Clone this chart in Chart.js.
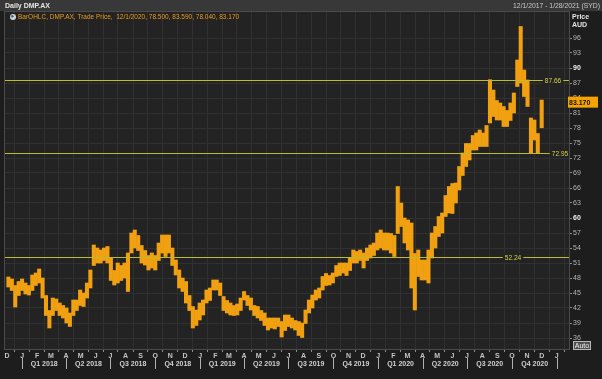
<!DOCTYPE html>
<html><head><meta charset="utf-8">
<script src="https://cdn.jsdelivr.net/npm/chart.js@4/dist/chart.umd.min.js"></script>
<style>
html,body{margin:0;padding:0;background:#1d1d1d;overflow:hidden}
canvas{display:block}
</style></head><body>
<canvas id="c" width="602" height="379"></canvas>
<script>
// ---- text ----
const titleText = 'Daily DMP.AX';
const rangeText = '12/1/2017 - 1/28/2021 (SYD)';
const legendText = 'BarOHLC, DMP.AX, Trade Price,  12/1/2020, 78.500, 83.590, 78.040, 83.170';
const axisTitle = ['Price', 'AUD'];

// ---- data (weekly low / high, week 0 starts 12/1/2017) ----
const weekLow = [
 46.2,45.5,42.2,44.5,45.5,44.8,44.6,45.5,46.5,47,
 44,40.5,38,40.5,41.5,40.5,40,39,38.3,40.5,
 41.5,42.5,42.3,44,46,50.5,51,51,51.5,51,
 47.5,46.6,47,47.5,48,45.3,53,54,53.5,51,
 50.6,49.6,50,49.6,51.5,53,52.3,53,50.5,48.6,
 46,45.3,43,41.5,38,38.5,39.6,40.6,43,43.5,
 45.6,45.6,44.5,41.5,41,40.6,40.5,40.6,41.5,43.6,
 42.5,41.6,40.5,40,39.5,38.5,37.6,38,37.8,38.3,
 36.2,37.5,38.3,38,37.6,36.5,36.1,38.9,41,42,
 43.6,44,45.6,46.5,46.6,47,48.3,48.5,49,48.5,
 49.5,51,51,51.5,50,51.5,52,52.5,53.6,54,
 53.6,53.6,53,52.3,56.9,58.3,55,53.6,46,41.6,
 48.3,47.6,47.6,47,52,54,56.3,57,60.3,61,
 60.9,63,65.6,68.5,70.3,71.6,73.6,73.6,74.3,74.3,
 74.3,79,80.3,79.6,79.6,78.3,78.3,79.5,81,86.3,
 87,84.3,82.3,72.95,75.6,72.95
];
const weekHigh = [
 48.2,47.8,46.5,47.3,47.8,47,46.5,48.6,49,49.8,
 48,44.5,41.5,44,43.8,43,42.5,42,41,43.6,
 43.6,45.6,45,47,49.6,54.6,54,53.6,54,54.3,
 52,49.5,51,50.5,51,53,57,57.6,56.5,54.5,
 53.5,52.5,53,52.5,55,56.6,56.6,56.6,54,51.6,
 49.6,48,47.3,44.5,42.3,41.6,43,43.6,45.6,46,
 47.6,47.6,47,44.3,43.5,43,42.5,42.8,44,45.3,
 44.5,44,42.5,42.3,41.5,41,40,40,40,40,
 39.3,40.6,40.6,40,39.5,39.3,39,41.6,43.6,44.6,
 45.6,46,48.3,48.9,48.5,49,50.5,51,51,51,
 52,53.6,53.3,53.6,53,54,54.6,55,57,57.6,
 57,57,56.9,56.5,66.3,63,60,59.6,59,52.9,
 53.6,51.6,51.6,53.6,57,58.3,60.3,61,64.5,66.3,
 66.9,67,70.3,73,74.9,74.9,76.5,77,77.6,77,
 78.5,87.66,85.6,83.5,83,82.3,81.5,83,85,91.6,
 98.3,89.6,87.6,80,79.6,76.9
];
// last daily bar 12/1/2020: open, high, low, close
const lastOHLC = [78.5, 83.59, 78.04, 83.17];
const levels = [87.66, 72.95, 52.24];
const priceTicks = [36,39,42,45,48,51,54,57,60,63,66,69,72,75,78,81,84,87,90,93,96];
const monthLetters = ['J','F','M','A','M','J','J','A','S','O','N','D'];
const quarterNames = ['Q1 2018','Q2 2018','Q3 2018','Q4 2018','Q1 2019','Q2 2019','Q3 2019','Q4 2019','Q1 2020','Q2 2020','Q3 2020','Q4 2020'];

// ---- calendar helpers (days since 12/1/2017) ----
const DAY = 86400000;
const t0 = Date.UTC(2017, 11, 1);
const dayOf = (y, m, d) => Math.round((Date.UTC(y, m, d) - t0) / DAY);
const monthTicks = [];
for (let k = 0; k <= 37; k++) monthTicks.push({ value: dayOf(2017, 11 + k, 1), letter: monthLetters[(11 + k) % 12] });
const quarterStarts = [];
for (let q = 0; q <= 12; q++) quarterStarts.push(dayOf(2018, 3 * q, 1));

const barData = weekLow.map((lo, i) => ({ x: 7 * i + 3, y: [lo, weekHigh[i]] }));
barData.push({ x: dayOf(2020, 11, 1), y: [lastOHLC[2], lastOHLC[1]] });

// ---- styles ----
const FONT = 'Liberation Sans';
const BG = '#1d1d1d', PLOT_BG = '#232323', GRID = '#303030';
const LEVEL_COLOR = '#bcbc30', LEVEL_TEXT = '#d2d24a';
const levelLabelX = [553, 560, 513];

const decor = {
  id: 'decor',
  beforeDraw(chart) {
    const { ctx, chartArea: a } = chart;
    ctx.save();
    ctx.fillStyle = BG; ctx.fillRect(0, 0, chart.width, chart.height);
    ctx.fillStyle = '#383838'; ctx.fillRect(0, 0, chart.width, 11);
    ctx.fillStyle = PLOT_BG; ctx.fillRect(a.left, a.top, a.right - a.left, a.bottom - a.top);
    ctx.restore();
  },
  afterDatasetsDraw(chart) {
    const { ctx, chartArea: a, scales: { y } } = chart;
    ctx.save();
    ctx.font = '6.6px ' + FONT;
    ctx.textBaseline = 'middle'; ctx.textAlign = 'center';
    levels.forEach((v, i) => {
      const py = Math.round(y.getPixelForValue(v)) + 0.5;
      ctx.strokeStyle = LEVEL_COLOR; ctx.lineWidth = 1;
      ctx.beginPath(); ctx.moveTo(a.left, py); ctx.lineTo(a.right, py); ctx.stroke();
      const txt = v.toFixed(2);
      const w = ctx.measureText(txt).width + 4;
      ctx.fillStyle = PLOT_BG; ctx.fillRect(levelLabelX[i] - w / 2, py - 4, w, 8);
      ctx.fillStyle = LEVEL_TEXT; ctx.fillText(txt, levelLabelX[i], py + 0.5);
    });
    ctx.restore();
  },
  afterDraw(chart) {
    const { ctx, chartArea: a, scales: { x, y } } = chart;
    ctx.save();
    // plot border
    ctx.strokeStyle = '#4a4a4a'; ctx.lineWidth = 1;
    ctx.strokeRect(a.left - 0.5, a.top - 0.5, a.right - a.left + 1, a.bottom - a.top + 1);
    // header
    ctx.textBaseline = 'middle';
    ctx.font = 'bold 7px ' + FONT; ctx.fillStyle = '#e4e4e4'; ctx.textAlign = 'left';
    ctx.fillText(titleText, 5, 6);
    ctx.font = '6.8px ' + FONT; ctx.fillStyle = '#c8c8c8'; ctx.textAlign = 'right';
    ctx.fillText(rangeText, 600, 6);
    ctx.font = 'bold 7px ' + FONT; ctx.fillStyle = '#e4e4e4'; ctx.textAlign = 'left';
    ctx.fillText(axisTitle[0], 572, 17);
    ctx.fillText(axisTitle[1], 572, 25);
    // legend line
    ctx.beginPath(); ctx.arc(13, 17, 3, 0, Math.PI * 2); ctx.fillStyle = '#d8d8d8'; ctx.fill();
    ctx.beginPath(); ctx.arc(12.3, 16.3, 1.4, 0, Math.PI * 2); ctx.fillStyle = '#3a6ea8'; ctx.fill();
    ctx.font = '6.5px ' + FONT; ctx.fillStyle = '#e89a20';
    ctx.fillText(legendText, 18, 17.5);
    // last price box
    const py = y.getPixelForValue(lastOHLC[3]);
    ctx.fillStyle = '#f5a300'; ctx.fillRect(568, py - 5.5, 30, 11);
    ctx.fillStyle = '#111'; ctx.font = 'bold 7px ' + FONT; ctx.textAlign = 'left';
    ctx.fillText(lastOHLC[3].toFixed(3), 569, py + 0.5);
    // quarter row
    ctx.font = 'bold 7px ' + FONT; ctx.fillStyle = '#d0d0d0'; ctx.textAlign = 'center';
    ctx.strokeStyle = '#b0b0b0';
    quarterStarts.forEach((d, i) => {
      const px = Math.round(x.getPixelForValue(d)) + 0.5;
      ctx.beginPath(); ctx.moveTo(px, 358); ctx.lineTo(px, 369); ctx.stroke();
      if (i < quarterNames.length) {
        const nx = x.getPixelForValue(quarterStarts[i + 1]);
        ctx.fillText(quarterNames[i], (px + nx) / 2, 364);
      }
    });
    // Auto button
    ctx.fillStyle = '#4e4e4e'; ctx.fillRect(573, 341.5, 17, 8);
    ctx.strokeStyle = '#b8b8b8'; ctx.strokeRect(573.5, 341.5, 17, 8);
    ctx.fillStyle = '#f0f0f0'; ctx.font = '7px ' + FONT; ctx.textAlign = 'center';
    ctx.fillText('Auto', 582, 346);
    ctx.restore();
  }
};

new Chart(document.getElementById('c'), {
  type: 'bar',
  data: { datasets: [{ data: barData, backgroundColor: '#f0a010', barThickness: 3.4, borderWidth: 0, grouped: false }] },
  options: {
    responsive: false, animation: false, events: [],
    layout: { padding: { left: 5, top: 12, right: 0, bottom: 0 } },
    plugins: { legend: { display: false }, tooltip: { enabled: false } },
    scales: {
      x: {
        type: 'linear', min: -4, max: 1152, offset: false,
        afterBuildTicks: s => { s.ticks = monthTicks.map(t => ({ value: t.value })); },
        afterFit: s => { s.height = 30; },
        grid: { color: GRID, tickLength: 3, tickColor: '#8a8a8a', drawTicks: true },
        border: { display: false },
        ticks: {
          autoSkip: false, maxRotation: 0, padding: 0, color: '#c4c4c4',
          font: { family: FONT, size: 7, weight: 'bold' },
          callback: (v) => { const m = monthTicks.find(t => t.value === v); return m ? m.letter : ''; }
        }
      },
      y: {
        position: 'right', min: 33.8, max: 101.2,
        afterBuildTicks: s => { s.ticks = priceTicks.map(v => ({ value: v })); },
        afterFit: s => { s.width = 33; },
        grid: { color: GRID, tickLength: 3, tickColor: '#8a8a8a' },
        border: { display: false },
        ticks: {
          padding: 1, color: c => (c.tick && c.tick.value % 30 === 0) ? '#eeeeee' : '#b4b4b4',
          font: c => ({ family: FONT, size: 7, weight: (c.tick && c.tick.value % 30 === 0) ? 'bold' : 'normal' }),
          callback: v => String(v)
        }
      }
    }
  },
  plugins: [decor]
});
</script>
</body></html>
